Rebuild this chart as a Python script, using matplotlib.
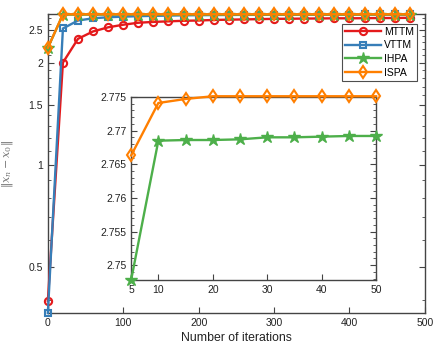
import numpy as np
from matplotlib import pyplot as plt
from matplotlib.ticker import MultipleLocator, FixedLocator, NullLocator, FuncFormatter

plt.rcParams['font.family'] = ['Liberation Sans', 'DejaVu Sans']
plt.rcParams['mathtext.fontset'] = 'dejavuserif'

# main plot data
iters = [0, 20, 40, 60, 80, 100, 120, 140, 160, 180, 200, 220, 240,
         260, 280, 300, 320, 340, 360, 380, 400, 420, 440, 460, 480]
mttm = [0.397, 2.00, 2.35, 2.47, 2.54, 2.585, 2.62, 2.635, 2.645, 2.655, 2.66, 2.67, 2.675,
        2.68, 2.685, 2.69, 2.692, 2.695, 2.697, 2.70, 2.70, 2.702, 2.705, 2.705, 2.71]
vttm = [0.366, 2.52, 2.66, 2.70, 2.72, 2.73, 2.74, 2.745, 2.75, 2.755, 2.758, 2.76, 2.762,
        2.764, 2.765, 2.766, 2.767, 2.768, 2.769, 2.770, 2.770, 2.771, 2.771, 2.772, 2.772]
ihpa = [2.21, 2.7685, 2.7686, 2.7687, 2.769, 2.769, 2.7692, 2.7692, 2.7692, 2.7692, 2.7692, 2.7692, 2.7692,
        2.7692, 2.7692, 2.7692, 2.7692, 2.7692, 2.7692, 2.7692, 2.7692, 2.7692, 2.7692, 2.7692, 2.7692]
ispa = [2.21, 2.7749, 2.7751, 2.7751, 2.7751, 2.7751, 2.7751, 2.7751, 2.7751, 2.7751, 2.7751, 2.7751, 2.7751,
        2.7751, 2.7751, 2.7751, 2.7751, 2.7751, 2.7751, 2.7751, 2.7751, 2.7751, 2.7751, 2.7751, 2.7751]

# inset data
iters_in = [5, 10, 15, 20, 25, 30, 35, 40, 45, 50]
ihpa_in = [2.7478, 2.7685, 2.7686, 2.7686, 2.7687, 2.7690, 2.7690, 2.7691, 2.7692, 2.7692]
ispa_in = [2.7663, 2.7741, 2.7747, 2.7751, 2.7751, 2.7751, 2.7751, 2.7751, 2.7751, 2.7751]

c_red, c_blue, c_green, c_orange = '#e41a1c', '#377eb8', '#4daf4a', '#ff7f00'
spine_c = '#444444'
txt_c = '#222222'

fig = plt.figure(figsize=(4.43, 3.59), dpi=100)
ax = fig.add_axes([0.108, 0.128, 0.851, 0.833])

lw = 1.7
ax.plot(iters, mttm, '-o', color=c_red, lw=lw, ms=5.2, mfc='none', mew=1.5, label='MTTM', clip_on=False, zorder=3)
ax.plot(iters, vttm, '-s', color=c_blue, lw=lw, ms=4.8, mfc='none', mew=1.5, label='VTTM', clip_on=False, zorder=3)
ax.plot(iters, ihpa, '-*', color=c_green, lw=lw, ms=9, label='IHPA', clip_on=False, zorder=3)
ax.plot(iters, ispa, '-d', color=c_orange, lw=lw, ms=6.3, mfc='none', mew=1.5, label='ISPA', clip_on=False, zorder=3)

ax.set_yscale('log')
ax.set_xlim(0, 500)
ax.set_ylim(0.366, 2.78)
ax.yaxis.set_major_locator(FixedLocator([0.5, 1, 1.5, 2, 2.5]))
ax.yaxis.set_major_formatter(FuncFormatter(lambda v, p: '%g' % v))
ax.yaxis.set_minor_locator(FixedLocator(np.round(np.arange(0.4, 2.8, 0.1), 2)))
ax.yaxis.set_minor_formatter(FuncFormatter(lambda v, p: ''))
ax.set_xticks([0, 100, 200, 300, 400, 500])
ax.xaxis.set_minor_locator(NullLocator())

for s in ax.spines.values():
    s.set_color(spine_c)
    s.set_linewidth(1.0)
ax.tick_params(which='both', direction='in', top=True, right=True, colors=spine_c,
               labelcolor=txt_c, labelsize=7.5)
ax.tick_params(which='major', length=4)
ax.tick_params(which='minor', length=2)

ax.set_xlabel('Number of iterations', fontsize=8.8, color=txt_c, labelpad=3)
ax.set_ylabel(r'$\|x_n-x_0\|$', fontsize=8, color='#777777')
ax.yaxis.set_label_coords(-0.088, 0.5)

leg = ax.legend(loc='upper right', bbox_to_anchor=(0.985, 0.975), fontsize=7.5, handlelength=3.4,
                frameon=True, fancybox=False, borderpad=0.3, labelspacing=0.35,
                handletextpad=0.3, borderaxespad=0.2)
leg.get_frame().set_edgecolor('#222222')
leg.get_frame().set_linewidth(0.8)

# inset
axi = fig.add_axes([0.296, 0.220, 0.553, 0.510])
axi.plot(iters_in, ihpa_in, '-*', color=c_green, lw=lw, ms=9, clip_on=False, zorder=3)
axi.plot(iters_in, ispa_in, '-d', color=c_orange, lw=lw, ms=6.3, mfc='none', mew=1.5, clip_on=False, zorder=3)
axi.set_xlim(5, 50)
axi.set_ylim(2.7478, 2.775)
axi.set_xticks([5, 10, 20, 30, 40, 50])
axi.set_yticks([2.75, 2.755, 2.76, 2.765, 2.77, 2.775])
axi.yaxis.set_major_formatter(FuncFormatter(lambda v, p: '%g' % round(v, 4)))
axi.yaxis.set_minor_locator(MultipleLocator(0.001))
for s in axi.spines.values():
    s.set_color(spine_c)
    s.set_linewidth(1.0)
axi.tick_params(which='both', direction='in', right=True, top=False, colors=spine_c,
                labelcolor=txt_c, labelsize=7.5)
axi.tick_params(which='major', length=4)
axi.tick_params(which='minor', length=2)

fig.savefig('out.png', dpi=100)
